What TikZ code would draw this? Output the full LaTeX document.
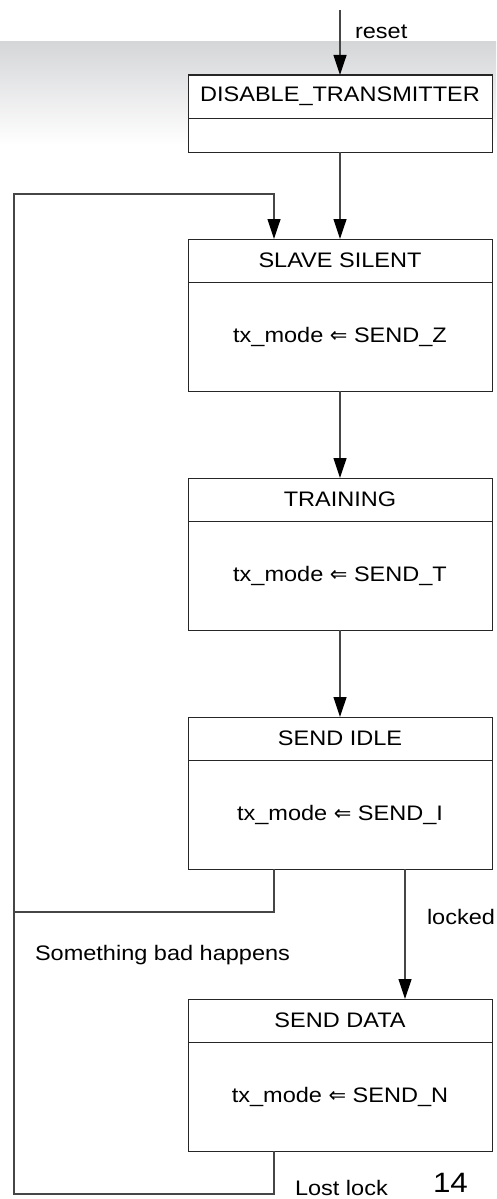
\documentclass[tikz,border=0pt]{standalone}
\usepackage{fontspec}
\setmainfont[FakeStretch=1.12]{Liberation Sans}
\newfontfamily\arrowfont[Scale=1.0]{DejaVu Sans}
\usetikzlibrary{calc,arrows.meta,positioning}
\definecolor{band}{RGB}{213,214,216}
\definecolor{wirecol}{RGB}{70,70,70}
\newcommand{\getsarrow}{{\arrowfont ⇐}}

\begin{document}
\begin{tikzpicture}[x=1pt,y=-1pt,
	every node/.style={font=\fontsize{21}{25}\selectfont,inner sep=0pt,outer sep=0pt},
	head/.style={draw=black!85,fill=white,line width=1pt,minimum width=304pt,minimum height=43pt},
	body/.style={draw=black!85,fill=white,line width=1pt,minimum width=304pt,minimum height=109pt},
	wire/.style={draw=wirecol,line width=1.2pt},
	go/.style={wire,-{Triangle[length=20pt,width=13pt,color=black]}}]
		\useasboundingbox (0,0) rectangle (496,1199);
		\shade[top color=band,bottom color=white] (0,42) rectangle (496,145);
		
		\node[head] (sA) at (340,96.5) {DISABLE\_TRANSMITTER};
		\node[body,minimum height=34pt,below=0pt of sA] (bA) {};
		
		\node[head] (sB) at (340,260.5) {SLAVE SILENT};
		\node[body,below=0pt of sB] (bB) {tx\_mode \getsarrow{} SEND\_Z};
		
		\node[head] (sC) at (340,499.5) {TRAINING};
		\node[body,below=0pt of sC] (bC) {tx\_mode \getsarrow{} SEND\_T};
		
		\node[head] (sD) at (340,738.5) {SEND IDLE};
		\node[body,below=0pt of sD] (bD) {tx\_mode \getsarrow{} SEND\_I};
		
		\node[head] (sE) at (340,1020.5) {SEND DATA};
		\node[body,below=0pt of sE] (bE) {tx\_mode \getsarrow{} SEND\_N};
		
		\coordinate (rst) at (340,10);
		\coordinate (jn) at (14,912);
		\coordinate (tp) at (14,194);
		\coordinate (bt) at (14,1194);
		
		\draw[go] (rst) -- (sA.north) node[pos=0.34,anchor=west,xshift=15pt] (lr) {reset};
		\draw[go] (bA) -- (sB);
		\draw[go] (bB) -- (sC);
		\draw[go] (bC) -- (sD);
		\draw[go] ($(bD.south)+(65,0)$) -- ($(sE.north)+(65,0)$) node[pos=0.37,anchor=west,xshift=22pt] (ll) {locked};
		
		\draw[wire] ($(bD.south)+(-66,0)$) |- (jn);
		\draw[wire] ($(bE.south)+(-66,0)$) |- (bt) -- (jn);
		\draw[go] (jn) -- (tp) -| ($(sB.north)+(-66,0)$);
		
		\node[anchor=west] (bad) at (35,955) {Something bad happens};
		\node[anchor=west] (lost) at (295,1188) {Lost lock};
		\node[anchor=west,font=\fontsize{28}{30}\selectfont] (pg) at (433,1183) {14};
	\end{tikzpicture}
\end{document}
